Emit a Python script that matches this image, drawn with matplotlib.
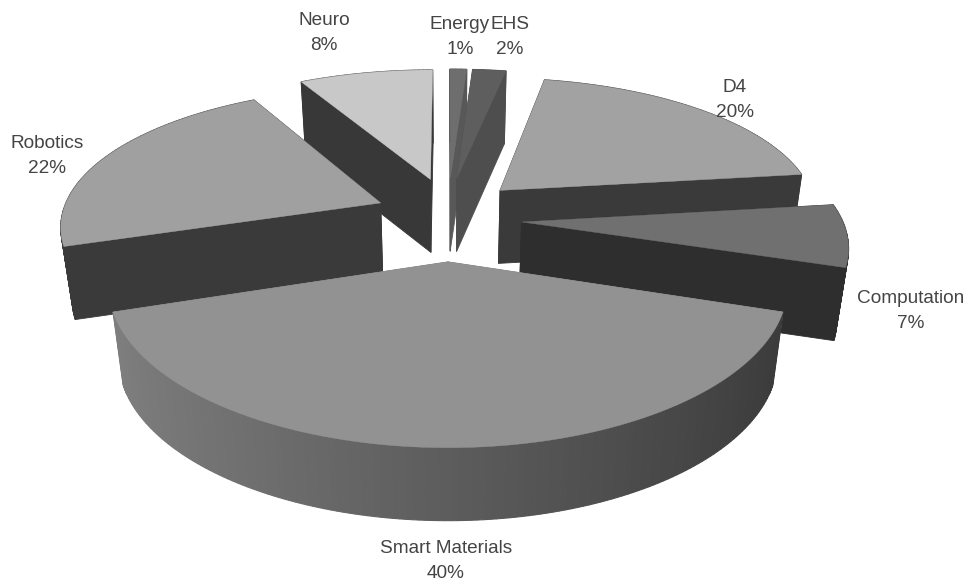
#!/usr/bin/env python3
"""Exploded 3D pie, drawn by projecting each wedge onto the page."""

import matplotlib
matplotlib.use("Agg")
import matplotlib.pyplot as plt
import numpy as np

LABELS = ["Energy", "EHS", "D4", "Computation", "Smart Materials", "Robotics", "Neuro"]
VALUES = [1, 2, 20, 7, 40, 22, 8]

TOP_GRAYS = ["#6e6e6e", "#5e5e5e", "#a2a2a2", "#707070", "#929292", "#a0a0a0", "#c8c8c8"]
SIDE_GRAYS = ["#585858", "#4e4e4e", "#3a3a3a", "#2e2e2e", "#808080", "#3a3a3a", "#383838"]
WALL_FADE = [0, 0, 0, 0, 0.55, 0, 0]

# label centre in page pixels
LABEL_POS = [(460, 37), (510, 37), (735, 100), (911, 311), (446, 561), (47, 156), (324, 33)]

CX, CY = 448, 218
RX, RY = 320, 139
PERSP_X, PERSP_Y = 0.15, 0.164
EXPLODE_X, EXPLODE_Y = 0.23, 0.30
DEPTH = 73
BOTTOM_SHRINK = 0.97
DRAW_ORDER = [6, 0, 1, 2, 5, 3, 4]


def project(x, y, bottom=False):
    px = RX * x / (1 + PERSP_X * y)
    py = CY - RY * y / (1 + PERSP_Y * y)
    if bottom:
        px *= BOTTOM_SHRINK
        py += DEPTH
    return CX + px, py


def draw_slice(ax, start, stop, top, side, fade):
    mid = (start + stop) / 2
    ox, oy = EXPLODE_X * np.sin(mid), EXPLODE_Y * np.cos(mid)
    t = np.linspace(start, stop, max(int((stop - start) * 60), 4))
    xs, ys = ox + np.sin(t), oy + np.cos(t)

    # cut faces first, then the outer wall in strips, then the top
    for ex, ey in [(xs[0], ys[0]), (xs[-1], ys[-1])]:
        a = project(np.array([ox, ex]), np.array([oy, ey]))
        b = project(np.array([ex, ox]), np.array([ey, oy]), bottom=True)
        ax.fill(np.r_[a[0], b[0]], np.r_[a[1], b[1]], color=side, lw=0.6, zorder=1)

    base = np.array(matplotlib.colors.to_rgb(side))
    for i in range(len(t) - 1):
        a = project(xs[i:i + 2], ys[i:i + 2])
        b = project(xs[i:i + 2][::-1], ys[i:i + 2][::-1], bottom=True)
        factor = 1 - fade * (np.sin(t[i]) + 1) / 2
        ax.fill(np.r_[a[0], b[0]], np.r_[a[1], b[1]], color=tuple(base * factor), lw=0.8, zorder=1)

    px, py = project(np.r_[ox, xs], np.r_[oy, ys])
    ax.fill(px, py, color=top, lw=0.3, zorder=1)


def main():
    fig = plt.figure(figsize=(9.67, 5.82), dpi=100)
    ax = fig.add_axes([0, 0, 1, 1])
    ax.set_xlim(0, 967)
    ax.set_ylim(582, 0)
    ax.axis("off")

    edges = np.r_[0, np.cumsum(VALUES)] / sum(VALUES) * 2 * np.pi
    for i in DRAW_ORDER:
        draw_slice(ax, edges[i], edges[i + 1], TOP_GRAYS[i], SIDE_GRAYS[i], WALL_FADE[i])

    for label, value, (x, y) in zip(LABELS, VALUES, LABEL_POS):
        ax.text(x, y, f"{label}\n{value}%", ha="center", va="center", fontsize=13.7,
                family=["Liberation Sans"], color="#444444",
                linespacing=1.65, zorder=3)

    fig.savefig("out.png", dpi=100)


if __name__ == "__main__":
    main()
